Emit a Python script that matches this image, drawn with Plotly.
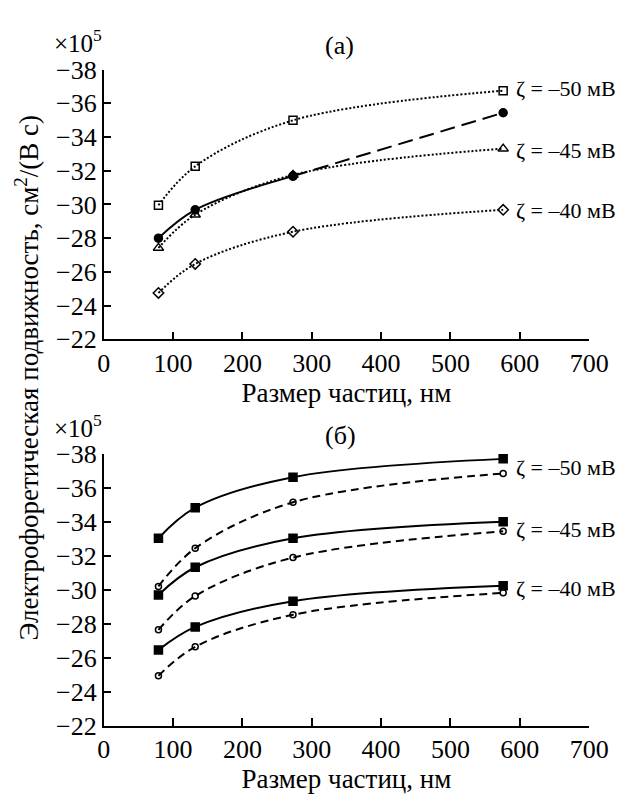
import plotly.graph_objects as go

W, H = 629, 799

# particle size, nm
x_nm = [79, 132, 273, 576]

# panel (a)
a_z50 = [-29.95, -32.26, -34.99, -36.75]
a_z45 = [-27.42, -29.39, -31.75, -33.31]
a_z40 = [-24.75, -26.47, -28.38, -29.68]
a_exp = [-28.0, -29.68, -31.68, -35.44]

# panel (б)
b_z50_sq = [-33.04, -34.84, -36.64, -37.72]
b_z50_ci = [-30.20, -32.45, -35.16, -36.86]
b_z45_sq = [-29.70, -31.33, -33.04, -34.02]
b_z45_ci = [-27.64, -29.63, -31.90, -33.45]
b_z40_sq = [-26.45, -27.81, -29.33, -30.24]
b_z40_ci = [-24.93, -26.64, -28.53, -29.82]

zeta_labels = ["ζ = –50 мВ", "ζ = –45 мВ", "ζ = –40 мВ"]
a_label_y = [-36.9, -33.18, -29.66]
b_label_y = [-37.24, -33.55, -30.08]

x_ticks = [0, 100, 200, 300, 400, 500, 600, 700]
y_ticks = [-22, -24, -26, -28, -30, -32, -34, -36, -38]

FONT = "Liberation Serif, Times New Roman, serif"
BLACK = "black"

fig = go.Figure()

def add(x, y, xa, ya, dash, symbol, msize, mode="lines+markers", shape="spline"):
    fig.add_trace(go.Scatter(
        x=x, y=y, xaxis=xa, yaxis=ya, mode=mode,
        line=dict(color=BLACK, width=2, dash=dash, shape=shape, smoothing=1.0),
        marker=dict(symbol=symbol, size=msize, color=BLACK,
                    line=dict(color=BLACK, width=1.5)),
        showlegend=False, cliponaxis=False,
    ))

# (a) theory curves (dotted, open markers)
add(x_nm, a_z50, "x", "y", "2px,2px", "square-open", 8)
add(x_nm, a_z45, "x", "y", "2px,2px", "triangle-up-open", 9)
add(x_nm, a_z40, "x", "y", "2px,2px", "diamond-open", 8)
# (a) experiment: solid through first three, long dash to last
add(x_nm[:3], a_exp[:3], "x", "y", "solid", "circle", 8)
add(x_nm[2:], a_exp[2:], "x", "y", "15px,7px", "circle", 8, shape="linear")

# (б)
for sq, ci in [(b_z50_sq, b_z50_ci), (b_z45_sq, b_z45_ci), (b_z40_sq, b_z40_ci)]:
    add(x_nm, sq, "x2", "y2", "solid", "square", 8)
    add(x_nm, ci, "x2", "y2", "8px,5px", "circle-open", 6)

xdom = [101.7 / W, 607.3 / W]
axis_common = dict(
    showline=True, linecolor=BLACK, linewidth=1.5, ticks="inside", ticklen=8,
    tickwidth=1.5, tickcolor=BLACK, showgrid=False, zeroline=False,
    tickfont=dict(family=FONT, size=26, color=BLACK),
)
xtitle = dict(text="Размер частиц, нм", font=dict(family=FONT, size=27, color=BLACK), standoff=1)

fig.update_layout(
    width=W, height=H, autosize=False,
    margin=dict(l=0, r=0, t=0, b=0),
    paper_bgcolor="white", plot_bgcolor="white",
    font=dict(family=FONT, color=BLACK),
    xaxis=dict(domain=xdom, anchor="y", range=[0, 700], tickvals=x_ticks,
               title=xtitle, **axis_common),
    yaxis=dict(domain=[1 - 337.5 / H, 1 - 57.7 / H], anchor="x", range=[-22, -38],
               tickvals=y_ticks, **axis_common),
    xaxis2=dict(domain=xdom, anchor="y2", range=[0, 700], tickvals=x_ticks,
                title=xtitle, **axis_common),
    yaxis2=dict(domain=[1 - 738.3 / H, 1 - 456.7 / H], anchor="x2", range=[-22, -38],
                tickvals=y_ticks, **axis_common),
)

ann = []
for t, yv in zip(zeta_labels, a_label_y):
    ann.append(dict(x=592, y=yv, xref="x", yref="y", text=t, showarrow=False,
                    xanchor="left", yanchor="middle",
                    font=dict(family=FONT, size=22, color=BLACK)))
for t, yv in zip(zeta_labels, b_label_y):
    ann.append(dict(x=592, y=yv, xref="x2", yref="y2", text=t, showarrow=False,
                    xanchor="left", yanchor="middle",
                    font=dict(family=FONT, size=22, color=BLACK)))

def pa(text, px, py, size, angle=0):
    return dict(x=px / W, y=1 - py / H, xref="paper", yref="paper", text=text,
                showarrow=False, xanchor="center", yanchor="middle", textangle=angle,
                font=dict(family=FONT, size=size, color=BLACK))

ann.append(pa("(а)", 347, 33, 26))
ann.append(pa("(б)", 348, 437, 26))
ann.append(pa("×10<sup>5</sup>", 75, 28, 25))
ann.append(pa("×10<sup>5</sup>", 75, 428, 25))
ann.append(pa("Электрофоретическая подвижность, см<sup>2</sup>/(В с)", 22, 378, 27, -90))

fig.update_layout(annotations=ann)
fig.write_html("out.html")
